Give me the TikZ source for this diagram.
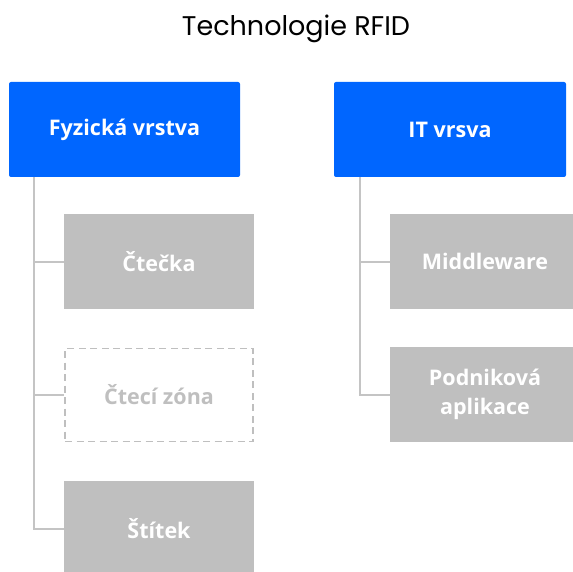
\documentclass[tikz,border=0pt]{standalone}
\usepackage{fontspec}
\setmainfont{Open Sans}
\newfontfamily\titlefont{Poppins}
\usetikzlibrary{calc}
\definecolor{layerblue}{HTML}{0066FF}
\definecolor{itemgrey}{HTML}{BFBFBF}
\definecolor{linkgrey}{HTML}{C4C4C4}
\tikzset{
  boxfont/.style={font=\bfseries\fontsize{21.5}{29}\selectfont},
  layerbox/.style={fill=layerblue, rounded corners=2pt, minimum width=231pt, minimum height=95pt,
    text=white, boxfont, inner sep=0pt},
  itembox/.style={fill=itemgrey, minimum width=190pt, minimum height=95pt,
    text=white, boxfont, align=center, inner sep=0pt},
  zonebox/.style={draw=itemgrey, line width=1.5pt, dash pattern=on 7pt off 4.5pt,
    minimum width=188pt, minimum height=93pt,
    text=itemgrey, boxfont, inner sep=0pt},
  link/.style={draw=linkgrey, line width=2pt},
}
\begin{document}
\begin{tikzpicture}[x=1pt, y=-1pt]
  \useasboundingbox (0,0) rectangle (573,572);
  \clip (0,0) rectangle (573,572);
  % title
  \node[font=\titlefont\fontsize{27}{32}\selectfont] (title) at (296,29) {Technologie RFID};
  % layers
  \node[layerbox] (F) at (124.5,129.5) {Fyzická vrstva};
  \node[layerbox, minimum width=232pt] (IT) at (450,129.5) {IT vrsva};
  % physical layer items
  \node[itembox] (C) at (159,261.5) {Čtečka};
  \node[zonebox] (Z) at (159,395) {Čtecí zóna};
  \node[itembox] (S) at (159,528.5) {Štítek};
  % IT layer items
  \node[itembox] (M) at (485,261.5) {Middleware};
  \node[itembox] (P) at (485,394.5) {Podniková\\aplikace};
  % tree connectors
  \coordinate (fl) at ($(F.south west)+(25,0)$);
  \coordinate (ir) at ($(IT.south west)+(26,0)$);
  \draw[link] (fl) |- (C.west);
  \draw[link] (fl) |- (Z.west);
  \draw[link] (fl) |- (S.west);
  \draw[link] (ir) |- (M.west);
  \draw[link] (ir) |- (P.west);
\end{tikzpicture}
\end{document}
